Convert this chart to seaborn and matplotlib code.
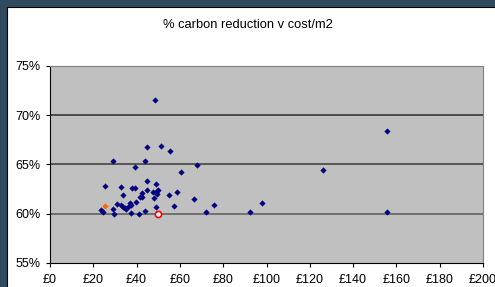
import numpy as np
import pandas as pd
import seaborn as sns
import matplotlib.pyplot as plt
from matplotlib.patches import Rectangle
from matplotlib.ticker import FuncFormatter

#########################
# data
#########################

cost = [48.3, 44.6, 51.2, 55.4, 29.2, 43.7, 39.2, 60.6, 45.0, 48.9,
        25.5, 32.6, 37.8, 39.4, 45.0, 49.7, 42.3, 47.5, 49.4, 58.5,
        33.9, 55.1, 41.5, 42.6, 48.1, 39.5, 30.9, 32.7, 36.9, 37.5,
        33.8, 36.3, 35.3, 34.7, 57.3, 49.1, 23.6, 24.5, 29.0, 29.6,
        37.6, 40.9, 43.9, 49.2, 68.1, 66.4, 75.6, 72.2, 92.6, 97.8,
        126.1, 155.7, 155.7]
reduction = [71.5, 66.8, 66.9, 66.4, 65.4, 65.4, 64.7, 64.2, 63.3, 63.0,
             62.8, 62.7, 62.6, 62.6, 62.4, 62.4, 62.1, 62.2, 62.0, 62.2,
             61.9, 61.9, 61.7, 61.7, 61.6, 61.2, 61.0, 60.9, 61.1, 60.9,
             60.7, 60.8, 60.5, 60.6, 60.8, 60.7, 60.4, 60.2, 60.5, 60.0,
             60.1, 60.0, 60.25, 62.3, 64.9, 61.5, 60.9, 60.2, 60.2, 61.1,
             64.45, 68.4, 60.2]

orange_cost = [25.3]
orange_red = [60.8]
red_cost = [49.7]
red_red = [60.0]

df = pd.DataFrame({"cost": cost, "reduction": reduction})

plt.rcParams["font.family"] = ["Liberation Sans", "DejaVu Sans"]

fig = plt.figure(figsize=(4.95, 2.87), dpi=100, facecolor="#2f4a5f")
# white chart area (cropped excel chart)
fig.patches.append(Rectangle((6.5 / 495, -0.1), 1.2, 1 - 7 / 287 + 0.1,
                             transform=fig.transFigure, facecolor="white",
                             edgecolor="black", linewidth=0.8, zorder=-10))

ax = fig.add_axes([50 / 495, 24 / 287, 433 / 495, 197 / 287])
ax.set_facecolor("#c0c0c0")

sns.scatterplot(data=df, x="cost", y="reduction", marker="D", s=8,
                color="#000080", edgecolor="#000080", linewidth=0.3, ax=ax, zorder=3)
sns.scatterplot(x=orange_cost, y=orange_red, marker="D", s=8,
                color="#ff6600", edgecolor="#ff6600", linewidth=0.3, ax=ax, zorder=3)
sns.scatterplot(x=red_cost, y=red_red, marker="o", s=20,
                color="white", edgecolor="red", linewidth=1.2, ax=ax, zorder=4)

ax.set_xlim(0, 200)
ax.set_ylim(55, 75)
ax.set_xticks(np.arange(0, 201, 20))
ax.set_yticks(np.arange(55, 76, 5))
ax.xaxis.set_major_formatter(FuncFormatter(lambda v, p: "£%d" % v))
ax.yaxis.set_major_formatter(FuncFormatter(lambda v, p: "%d%%" % v))
for yv, c in [(60, "#5a5a5a"), (65, "#3a3a3a"), (70, "#2a2a2a")]:
    ax.axhline(yv, color=c, linewidth=1.1, zorder=1)

ax.set_xlabel("")
ax.set_ylabel("")
ax.tick_params(axis="both", labelsize=9, length=3, width=0.8, color="black",
               direction="out")
ax.tick_params(axis="x", pad=5)
ax.tick_params(axis="y", pad=4)
ax.spines["left"].set_color("black")
ax.spines["bottom"].set_color("black")
ax.spines["top"].set_color("#808080")
ax.spines["right"].set_color("#808080")
for s in ax.spines.values():
    s.set_linewidth(0.8)

fig.text(0.5, 1 - 25 / 287, "% carbon reduction v cost/m2", ha="center",
         va="center", fontsize=9.3)

fig.savefig("out.png", dpi=100, facecolor=fig.get_facecolor())
